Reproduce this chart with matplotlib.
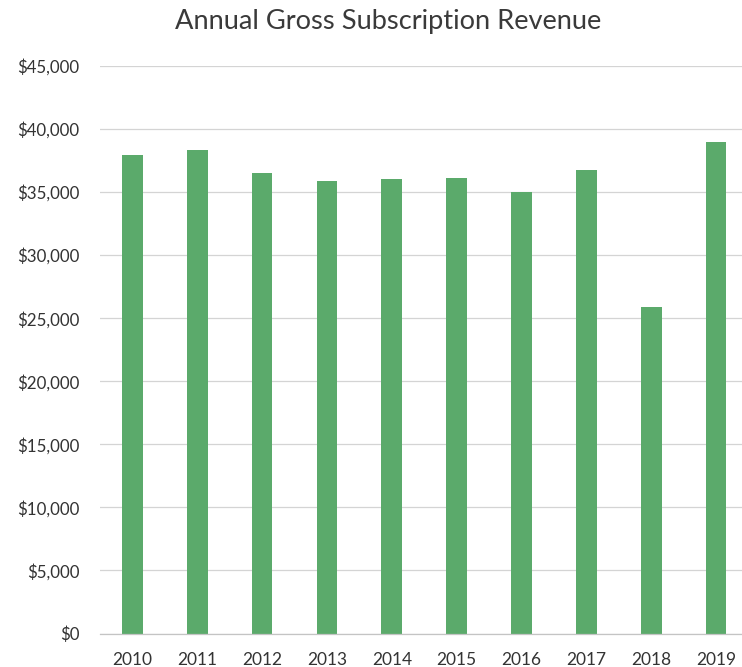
import matplotlib
matplotlib.use("Agg")
import matplotlib.pyplot as plt
from matplotlib.ticker import FuncFormatter

years = ["2010", "2011", "2012", "2013", "2014", "2015", "2016", "2017", "2018", "2019"]
revenue = [37950, 38370, 36500, 35920, 36050, 36100, 35030, 36770, 25870, 38980]
yticks = [0, 5000, 10000, 15000, 20000, 25000, 30000, 35000, 40000, 45000]

plt.rcParams['font.family'] = ['Lato', 'DejaVu Sans']

fig = plt.figure(figsize=(7.42, 6.67), dpi=100)
W, H = 742, 667
left_px, right_px, top_px, bottom_px = 100, 742, 66, 633.5
ax = fig.add_axes([left_px / W, 1 - bottom_px / H, (right_px - left_px) / W, (bottom_px - top_px) / H])

x = list(range(len(years)))
ax.bar(x, revenue, width=0.32, color='#5BAA6B', zorder=3)

ax.set_xlim(-0.5, 9.4)
ax.set_ylim(0, 45000)
ax.set_yticks(yticks)
ax.yaxis.set_major_formatter(FuncFormatter(lambda v, p: f"${int(v):,}"))
ax.set_xticks(x)
ax.set_xticklabels(years)

ax.grid(axis='y', color='#d4d4d4', linewidth=0.9, zorder=0)
for s in ['top', 'right', 'left']:
    ax.spines[s].set_visible(False)
ax.spines['bottom'].set_color('#c4c4c4')
ax.spines['bottom'].set_linewidth(0.9)
ax.spines['bottom'].set_zorder(4)
ax.tick_params(axis='both', length=0, labelsize=12.5, colors='#333333')
ax.tick_params(axis='y', pad=15, labelsize=12.2)
ax.tick_params(axis='x', pad=13)

fig.text(388 / W, 1 - 22 / H, "Annual Gross Subscription Revenue", ha='center', va='center',
         fontsize=19.6, color='#3a3a3a')

fig.savefig("out.png", dpi=100, facecolor='white')
